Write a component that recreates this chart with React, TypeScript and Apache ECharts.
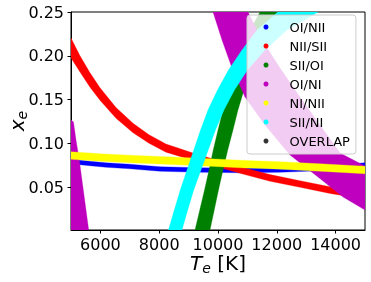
import React, { useEffect, useRef } from "react";
import * as echarts from "echarts";

type Pt = [number, number];

const seriesNames = ["OI/NII", "NII/SII", "SII/OI", "OI/NI", "NI/NII", "SII/NI", "OVERLAP"];
const seriesColors = ["#0000ff", "#ff0000", "#008000", "#bf00bf", "#ffff00", "#00ffff", "#000000"];

const xTicks = [6000, 8000, 10000, 12000, 14000];
const yTicks = [0.05, 0.1, 0.15, 0.2, 0.25];

// OI/NII (blue): x with upper / lower edge of band
const oiNiiX = [5000, 5136, 5306, 5646, 6190, 7007, 8027, 9388, 10748, 12109, 13469, 15000];
const oiNiiHigh = [0.083, 0.0818, 0.0807, 0.0796, 0.0778, 0.0761, 0.0733, 0.0721, 0.0716, 0.0721, 0.0738, 0.0778];
const oiNiiLow = [0.0778, 0.0766, 0.0755, 0.0744, 0.0726, 0.0709, 0.0681, 0.0669, 0.0664, 0.0669, 0.0686, 0.0726];

// NII/SII (red)
const niiSiiX = [5000, 5306, 5646, 5986, 6531, 7109, 7653, 8231, 9150, 9728, 10748, 11769, 12789, 13810, 15000];
const niiSiiHigh = [0.2202, 0.1999, 0.1806, 0.1635, 0.1408, 0.1229, 0.1098, 0.0992, 0.0889, 0.0832, 0.0733, 0.0643, 0.0573, 0.0504, 0.0436];
const niiSiiLow = [0.1976, 0.1814, 0.1641, 0.1491, 0.1285, 0.1121, 0.1, 0.0899, 0.0805, 0.0752, 0.0657, 0.0567, 0.0497, 0.0428, 0.036];

// SII/OI (green): y with left / right edge of band
const siiOiY = [0.001, 0.0238, 0.0467, 0.0695, 0.0924, 0.1152, 0.1381, 0.1609, 0.1838, 0.2066, 0.2294, 0.25];
const siiOiLeft = [9218, 9379, 9541, 9694, 9838, 10000, 10170, 10374, 10587, 10816, 11097, 11429];
const siiOiRight = [9728, 9873, 10017, 10170, 10332, 10510, 10680, 10884, 11114, 11361, 11658, 12007];

// OI/NI (magenta): two branches given by their edges
const oiNiMainA: Pt[] = [[9830, 0.25], [10136, 0.218], [10476, 0.186], [10918, 0.1529], [11599, 0.1209], [12449, 0.0867], [13401, 0.0615], [14252, 0.0387], [15000, 0.0238]];
const oiNiMainB: Pt[] = [[11020, 0.25], [11497, 0.218], [12109, 0.186], [12789, 0.1529], [13469, 0.1209], [14150, 0.0889], [15000, 0.0741]];
const oiNiLowTA: Pt[] = [[5000, 0.1265], [5000, 0.001]];
const oiNiLowTB: Pt[] = [[5000, 0.1265], [5085, 0.1245], [5170, 0.1038], [5282, 0.081], [5442, 0.041], [5602, 0.001]];

// NI/NII (yellow)
const niNiiX = [5000, 5986, 7007, 8231, 9388, 10748, 12109, 13469, 15000];
const niNiiHigh = [0.0904, 0.0881, 0.0864, 0.0847, 0.083, 0.0807, 0.079, 0.0767, 0.0738];
const niNiiLow = [0.0818, 0.0795, 0.0778, 0.0761, 0.0744, 0.0721, 0.0704, 0.0681, 0.0652];

// SII/NI (cyan)
const siiNiY = [0.001, 0.0238, 0.0467, 0.0695, 0.0924, 0.1152, 0.1381, 0.1609, 0.1838, 0.2066, 0.2294, 0.25];
const siiNiLeft = [8315, 8512, 8716, 8946, 9175, 9405, 9660, 9983, 10357, 10816, 11327, 12041];
const siiNiRight = [8774, 8971, 9175, 9422, 9668, 9915, 10204, 10561, 11003, 11599, 12347, 13401];

const hBand = (xs: number[], hi: number[], lo: number[]): Pt[] => [
  ...xs.map((x, i) => [x, hi[i]] as Pt),
  ...xs.map((x, i) => [x, lo[i]] as Pt).reverse(),
];
const vBand = (ys: number[], l: number[], r: number[]): Pt[] => [
  ...ys.map((y, i) => [l[i], y] as Pt),
  ...ys.map((y, i) => [r[i], y] as Pt).reverse(),
];
const eBand = (a: Pt[], b: Pt[]): Pt[] => [...a, ...b.slice().reverse()];

const FONT = "DejaVu Sans";

export default function App() {
  const ref = useRef<HTMLDivElement>(null);
  useEffect(() => {
    if (!ref.current) return;
    const chart = echarts.init(ref.current, undefined, { renderer: "svg" });
    const polys: Pt[][][] = [
      [hBand(oiNiiX, oiNiiHigh, oiNiiLow)],
      [hBand(niiSiiX, niiSiiHigh, niiSiiLow)],
      [vBand(siiOiY, siiOiLeft, siiOiRight)],
      [eBand(oiNiMainA, oiNiMainB), eBand(oiNiLowTA, oiNiLowTB)],
      [hBand(niNiiX, niNiiHigh, niNiiLow)],
      [vBand(siiNiY, siiNiLeft, siiNiRight)],
    ];
    const series: any[] = polys.map((pl, si) => ({
      type: "custom",
      name: seriesNames[si],
      coordinateSystem: "cartesian2d",
      clip: true,
      itemStyle: { color: seriesColors[si] },
      data: pl.map((p) => p[0]),
      renderItem: (params: any, api: any) => {
        const poly = pl[params.dataIndex];
        return {
          type: "polygon",
          shape: { points: poly.map((p) => api.coord(p)), smooth: 0 },
          style: { fill: seriesColors[si], stroke: seriesColors[si], lineWidth: 0.3 },
          silent: true,
        };
      },
    }));
    series.push({
      type: "scatter",
      name: seriesNames[6],
      itemStyle: { color: seriesColors[6] },
      data: [],
    });
    const rich = {
      i: { fontFamily: FONT, fontStyle: "italic", fontSize: 20, color: "#000", lineHeight: 24, verticalAlign: "middle" },
      s: { fontFamily: FONT, fontStyle: "italic", fontSize: 14, color: "#000", lineHeight: 14, verticalAlign: "bottom" },
      n: { fontFamily: FONT, fontSize: 20, color: "#000", lineHeight: 24, verticalAlign: "middle" },
    };
    chart.setOption({
      animation: false,
      grid: {
        left: 71,
        top: 12,
        right: 6,
        bottom: 52,
        show: true,
        borderColor: "#000",
        borderWidth: 1,
        outerBoundsMode: "none",
        containLabel: false,
      },
      legend: {
        orient: "vertical",
        left: 247,
        top: 15,
        icon: "circle",
        itemWidth: 5,
        itemHeight: 5,
        itemGap: 5,
        padding: [5, 6, 6, 16.5],
        selectedMode: false,
        backgroundColor: "rgba(255,255,255,0.8)",
        borderColor: "#cccccc",
        borderWidth: 1,
        borderRadius: 3,
        data: seriesNames,
        textStyle: { fontFamily: FONT, fontSize: 13, lineHeight: 14, color: "#000", padding: [0, 0, 0, 16] },
      },
      xAxis: {
        type: "value",
        min: 5000,
        max: 15000,
        name: "{i|T}{s|e}{n| [K]}",
        nameLocation: "middle",
        nameGap: 21,
        nameMoveOverlap: false,
        nameTextStyle: { rich },
        axisLine: { lineStyle: { color: "#000" } },
        axisTick: { customValues: xTicks, length: 3.5, lineStyle: { color: "#000" } },
        axisLabel: {
          customValues: xTicks,
          formatter: (v: number) => String(v),
          fontFamily: FONT,
          fontSize: 16,
          color: "#000",
          margin: 6,
        },
        splitLine: { show: false },
      },
      yAxis: {
        type: "value",
        min: 0.001,
        max: 0.25,
        name: "{i|x}{s|e}",
        nameLocation: "middle",
        nameRotate: 90,
        nameGap: 42,
        nameMoveOverlap: false,
        nameTextStyle: { rich },
        axisLine: { lineStyle: { color: "#000" } },
        axisTick: { customValues: yTicks, length: 3.5, lineStyle: { color: "#000" } },
        axisLabel: {
          customValues: yTicks,
          formatter: (v: number) => v.toFixed(2),
          fontFamily: FONT,
          fontSize: 16,
          color: "#000",
          margin: 7,
        },
        splitLine: { show: false },
      },
      series,
    });
    return () => chart.dispose();
  }, []);
  return <div ref={ref} style={{ position: "fixed", left: 0, top: 0, width: 371, height: 282 }} />;
}
